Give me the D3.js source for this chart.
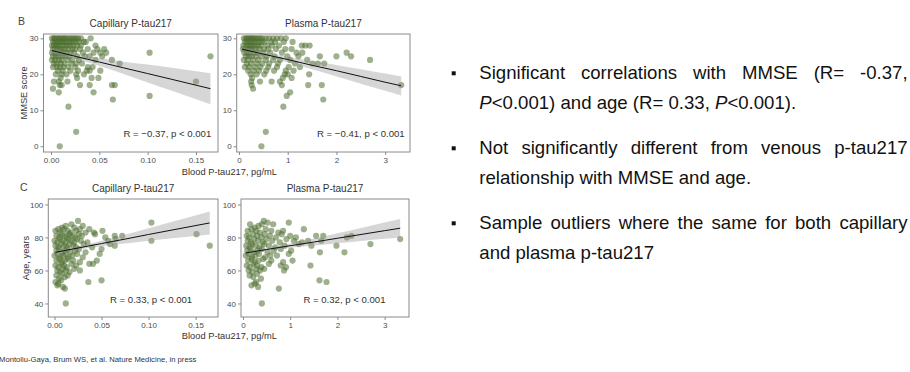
<!DOCTYPE html>
<html>
<head>
<meta charset="utf-8">
<script src="https://cdn.jsdelivr.net/npm/d3@7"></script>
<style>
  body { margin: 0; background: #fff; }
  svg { display: block; font-family: "Liberation Sans", Arial, sans-serif; }
</style>
</head>
<body>
<svg width="910" height="372"></svg>
<script>
// capillary p-tau217 (pg/mL) vs MMSE score
var capMmse = [
  [0.001,30],[0.003,30],[0.004,30],[0.006,30],[0.008,30],[0.009,30],[0.011,30],[0.013,30],[0.014,30],[0.016,30],[0.018,30],[0.020,30],[0.022,30],[0.024,30],[0.026,30],[0.028,30],[0.031,30],[0.041,30],
  [0.002,29],[0.004,29],[0.006,29],[0.008,29],[0.010,29],[0.012,29],[0.014,29],[0.016,29],[0.019,29],[0.021,29],[0.023,29],[0.026,29],[0.029,29],[0.034,29],[0.036,29],
  [0.001,28],[0.003,28],[0.005,28],[0.007,28],[0.009,28],[0.012,28],[0.015,28],[0.017,28],[0.020,28],[0.023,28],[0.027,28],[0.031,28],[0.046,28],
  [0.002,27],[0.004,27],[0.006,27],[0.009,27],[0.011,27],[0.014,27],[0.018,27],[0.022,27],[0.025,27],[0.030,27],[0.038,27],[0.048,27],[0.055,27],
  [0.001,26],[0.004,26],[0.007,26],[0.010,26],[0.013,26],[0.016,26],[0.020,26],[0.024,26],[0.033,26],[0.044,26],[0.051,26],[0.057,26],[0.102,26],
  [0.002,25],[0.005,25],[0.008,25],[0.012,25],[0.015,25],[0.019,25],[0.027,25],[0.035,25],[0.040,25],[0.053,25],[0.165,25],
  [0.001,24],[0.004,24],[0.008,24],[0.011,24],[0.017,24],[0.022,24],[0.029,24],[0.046,24],[0.063,24],
  [0.003,23],[0.006,23],[0.010,23],[0.014,23],[0.021,23],[0.026,23],[0.032,23],[0.071,23],
  [0.002,22],[0.006,22],[0.009,22],[0.013,22],[0.018,22],[0.025,22],[0.038,22],[0.043,22],
  [0.007,21],[0.012,21],[0.020,21],[0.028,21],[0.037,21],[0.040,21],[0.051,21],
  [0.005,20],[0.011,20],[0.016,20],[0.026,20],[0.034,20],
  [0.010,19],[0.027,19],[0.042,19],[0.049,19],
  [0.003,18],[0.008,18],[0.017,18],[0.150,18],
  [0.009,17],[0.011,17],[0.030,17],[0.040,17],[0.063,17],[0.066,17],
  [0.002,16],[0.008,15],[0.044,15],[0.102,14],[0.064,13],[0.018,11],[0.026,4],[0.009,0]
];

// plasma p-tau217 (pg/mL) vs MMSE score
var plasmaMmse = [
  [0.10,30],[0.14,30],[0.17,30],[0.20,30],[0.23,30],[0.26,30],[0.29,30],[0.32,30],[0.36,30],[0.40,30],[0.44,30],[0.48,30],[0.55,30],[0.62,30],[0.70,30],[0.78,30],[0.86,30],[0.96,30],
  [0.12,29],[0.16,29],[0.21,29],[0.25,29],[0.30,29],[0.35,29],[0.41,29],[0.47,29],[0.53,29],[0.66,29],[0.74,29],[0.92,29],[1.10,29],
  [0.09,28],[0.15,28],[0.19,28],[0.24,28],[0.28,28],[0.33,28],[0.39,28],[0.45,28],[0.58,28],[0.68,28],[0.82,28],[1.29,28],[1.36,28],[1.45,28],
  [0.08,27],[0.13,27],[0.18,27],[0.22,27],[0.27,27],[0.34,27],[0.42,27],[0.51,27],[0.60,27],[0.76,27],[0.95,27],[1.08,27],
  [0.11,26],[0.17,26],[0.23,26],[0.31,26],[0.38,26],[0.50,26],[0.64,26],[0.88,26],[1.18,26],[1.30,26],[2.21,26],
  [0.14,25],[0.20,25],[0.26,25],[0.35,25],[0.46,25],[0.57,25],[0.73,25],[0.99,25],[1.22,25],[1.66,25],[2.00,25],[2.30,25],
  [0.10,24],[0.18,24],[0.29,24],[0.40,24],[0.55,24],[0.70,24],[0.84,24],[1.05,24],[1.40,24],[2.69,24],
  [0.16,23],[0.25,23],[0.37,23],[0.48,23],[0.62,23],[0.80,23],[1.15,23],[1.51,23],[1.62,23],[1.75,23],
  [0.12,22],[0.21,22],[0.33,22],[0.44,22],[0.60,22],[0.78,22],[1.02,22],[1.25,22],
  [0.19,21],[0.30,21],[0.41,21],[0.56,21],[0.72,21],[0.96,21],[1.12,21],
  [0.24,20],[0.36,20],[0.52,20],[0.94,20],[1.00,20],[1.44,20],
  [0.27,19],[0.90,19],[1.08,19],
  [0.25,18],[0.43,18],[0.67,18],[0.84,18],
  [0.26,17],[0.88,17],[1.42,17],[1.70,17],[3.33,17],
  [0.29,16],[1.05,15],[0.98,14],[1.73,13],[0.91,11],[0.55,4],[0.46,0]
];

// capillary p-tau217 (pg/mL) vs age (years)
var capAge = [
  [0.025,90],[0.030,87],[0.012,87],[0.018,88],[0.008,86],[0.021,86],[0.004,85],
  [0.001,84],[0.006,83],[0.010,85],[0.014,84],[0.017,83],[0.023,84],[0.027,85],[0.033,83],[0.037,85],[0.042,83],[0.051,84],
  [0.002,81],[0.005,80],[0.008,82],[0.011,81],[0.013,80],[0.016,82],[0.019,81],[0.022,80],[0.026,82],[0.029,81],[0.043,82],[0.064,81],[0.072,81],[0.054,80],[0.103,89],
  [0.000,78],[0.003,77],[0.006,79],[0.009,78],[0.012,77],[0.015,79],[0.018,78],[0.021,77],[0.024,79],[0.028,78],[0.035,77],[0.057,78],[0.065,79],[0.103,78],
  [0.001,75],[0.004,74],[0.007,76],[0.010,75],[0.013,74],[0.016,76],[0.020,75],[0.023,74],[0.031,76],[0.040,74],[0.059,76],[0.064,75],[0.151,82],[0.165,75],
  [0.002,72],[0.005,73],[0.008,71],[0.011,72],[0.014,73],[0.017,71],[0.022,72],[0.026,73],[0.033,71],[0.050,73],
  [0.000,69],[0.003,70],[0.006,68],[0.009,69],[0.012,70],[0.015,68],[0.019,69],[0.024,70],[0.030,68],[0.048,70],
  [0.002,66],[0.005,67],[0.008,65],[0.011,66],[0.014,67],[0.020,66],[0.027,65],[0.045,66],
  [0.001,63],[0.004,62],[0.007,64],[0.010,63],[0.013,62],[0.018,64],[0.037,64],[0.041,64],[0.023,63],
  [0.003,60],[0.006,59],[0.009,61],[0.012,60],[0.016,59],[0.027,60],[0.021,61],
  [0.002,57],[0.005,55],[0.008,58],[0.011,56],[0.014,57],
  [0.001,53],[0.004,52],[0.007,54],[0.009,50],[0.011,49],[0.036,53],[0.050,54],[0.003,51],
  [0.012,40]
];

// plasma p-tau217 (pg/mL) vs age (years)
var plasmaAge = [
  [0.15,88],[0.44,90],[0.52,89],[0.40,88],[0.64,88],[0.97,89],[0.25,86],[0.33,87],
  [0.10,84],[0.18,85],[0.28,84],[0.36,83],[0.48,85],[0.60,84],[0.75,83],[1.29,85],[0.85,84],
  [0.08,81],[0.13,80],[0.21,82],[0.30,81],[0.39,80],[0.46,82],[0.57,81],[0.70,80],[0.82,82],[1.00,81],[1.12,80],[1.70,81],[2.30,81],[2.20,80],[1.55,81],
  [0.10,78],[0.17,77],[0.24,79],[0.32,78],[0.42,77],[0.50,79],[0.62,78],[0.78,77],[0.92,79],[1.08,78],[1.25,77],[1.38,78],[1.66,78],[3.33,79],
  [0.07,75],[0.14,74],[0.20,76],[0.27,75],[0.35,74],[0.45,76],[0.55,75],[0.68,74],[0.88,75],[1.18,76],[1.98,75],[2.70,76],[1.45,75],
  [0.09,72],[0.16,73],[0.23,71],[0.31,72],[0.40,73],[0.52,71],[0.65,72],[0.80,73],[1.63,71],[2.15,71],[1.02,72],
  [0.06,69],[0.12,70],[0.19,68],[0.26,69],[0.34,70],[0.47,68],[0.58,69],[0.97,70],[0.72,69],
  [0.11,66],[0.18,67],[0.25,65],[0.33,66],[0.43,67],[0.60,66],[1.05,66],[0.85,65],
  [0.08,63],[0.15,62],[0.22,64],[0.30,63],[0.39,62],[0.80,63],[0.91,62],[1.43,63],[0.55,64],
  [0.12,60],[0.20,59],[0.28,61],[0.36,60],[0.87,60],[0.45,61],
  [0.14,57],[0.22,56],[0.30,58],[0.38,55],
  [0.18,51],[0.25,52],[0.32,50],[0.28,53],[1.62,54],[1.77,53],
  [0.76,49],[0.40,40]
];

// linear fit with 95% band: [x, low, fit, high]
var capMmseFit = [[0.001,25.8,26.6,27.4],[0.025,24.3,25.0,25.7],[0.05,22.3,23.4,24.5],[0.075,20.1,21.8,23.5],[0.1,17.7,20.2,22.7],[0.125,15.4,18.6,21.8],[0.165,11.7,16.0,20.3]];
var plasmaMmseFit = [[0.06,26.2,27.0,27.8],[0.5,25.1,25.6,26.2],[1.0,23.3,24.1,24.8],[1.5,21.4,22.5,23.7],[2.0,19.4,21.0,22.6],[2.5,17.4,19.4,21.4],[3.0,15.4,17.8,20.2],[3.33,14.1,16.8,19.4]];
var capAgeFit = [[0.001,69.8,71.0,72.2],[0.025,72.6,73.6,74.6],[0.05,74.6,76.3,78.0],[0.075,76.3,79.0,81.7],[0.1,78.0,81.8,85.6],[0.125,79.5,84.5,89.5],[0.165,81.8,88.8,95.8]];
var plasmaAgeFit = [[0.06,69.7,70.6,71.5],[0.5,71.9,72.7,73.5],[1.0,73.7,75.0,76.3],[1.5,75.1,77.2,79.3],[2.0,76.5,79.5,82.5],[2.5,77.9,81.8,85.7],[3.0,79.2,84.1,89.0],[3.33,80.0,85.6,91.2]];

var capXTicks = [0, 0.05, 0.1, 0.15];
var plasmaXTicks = [0, 1, 2, 3];
var mmseTicks = [0, 10, 20, 30];
var ageTicks = [40, 60, 80, 100];
var panelTitles = ["Capillary P-tau217", "Plasma P-tau217"];
var corrLabels = ["R = \u22120.37, p < 0.001", "R = \u22120.41, p < 0.001", "R = 0.33, p < 0.001", "R = 0.32, p < 0.001"];

var svg = d3.select("svg");

var panels = [
  {box: [43.5, 34, 218, 152], xd: [-0.0078, 0.1728], yd: [-1.6, 31.2], pts: capMmse, fit: capMmseFit,
   xt: capXTicks, yt: mmseTicks, xf: d3.format(".2f"), title: panelTitles[0], lab: corrLabels[0], lx: 0.075, ly: 3.4},
  {box: [236.7, 34, 410, 152], xd: [-0.047, 3.51], yd: [-1.6, 31.2], pts: plasmaMmse, fit: plasmaMmseFit,
   xt: plasmaXTicks, yt: mmseTicks, xf: d3.format("d"), title: panelTitles[1], lab: corrLabels[1], lx: 1.6, ly: 3.4},
  {box: [48.3, 199, 218, 317], xd: [-0.0066, 0.1738], yd: [31.8, 103.3], pts: capAge, fit: capAgeFit,
   xt: capXTicks, yt: ageTicks, xf: d3.format(".2f"), title: panelTitles[0], lab: corrLabels[2], lx: 0.059, ly: 42.5},
  {box: [241, 199, 409, 317], xd: [-0.042, 3.517], yd: [31.8, 103.3], pts: plasmaAge, fit: plasmaAgeFit,
   xt: plasmaXTicks, yt: ageTicks, xf: d3.format("d"), title: panelTitles[1], lab: corrLabels[3], lx: 1.28, ly: 42.5}
];

panels.forEach(function(p){
  var x = d3.scaleLinear().domain(p.xd).range([p.box[0], p.box[2]]);
  var y = d3.scaleLinear().domain(p.yd).range([p.box[3], p.box[1]]);
  var g = svg.append("g");

  g.append("g")
    .selectAll("circle")
    .data(p.pts)
    .enter().append("circle")
      .attr("cx", function(d){ return x(d[0]); })
      .attr("cy", function(d){ return y(d[1]); })
      .attr("r", 3.1)
      .attr("fill", "#4e7030")
      .attr("fill-opacity", 0.55);

  var band = d3.area()
    .x(function(d){ return x(d[0]); })
    .y0(function(d){ return y(d[1]); })
    .y1(function(d){ return y(d[3]); })
    .curve(d3.curveMonotoneX);
  g.append("path").datum(p.fit)
    .attr("d", band)
    .attr("fill", "#999")
    .attr("fill-opacity", 0.4);

  var line = d3.line()
    .x(function(d){ return x(d[0]); })
    .y(function(d){ return y(d[2]); });
  g.append("path").datum(p.fit)
    .attr("d", line)
    .attr("fill", "none")
    .attr("stroke", "#111")
    .attr("stroke-width", 1);

  g.append("rect")
    .attr("x", p.box[0]).attr("y", p.box[1])
    .attr("width", p.box[2] - p.box[0]).attr("height", p.box[3] - p.box[1])
    .attr("fill", "none").attr("stroke", "#8a8a8a").attr("stroke-width", 1);

  var xa = g.append("g").attr("transform", "translate(0," + p.box[3] + ")")
    .call(d3.axisBottom(x).tickValues(p.xt).tickFormat(p.xf).tickSize(3).tickPadding(2));
  var ya = g.append("g").attr("transform", "translate(" + p.box[0] + ",0)")
    .call(d3.axisLeft(y).tickValues(p.yt).tickSize(3).tickPadding(2));
  [xa, ya].forEach(function(a){
    a.select(".domain").remove();
    a.selectAll("line").attr("stroke", "#8a8a8a");
    a.selectAll("text").attr("fill", "#4d4d4d").attr("font-size", 8)
      .attr("font-family", "Liberation Sans, Arial, sans-serif");
  });

  g.append("text")
    .attr("x", (p.box[0] + p.box[2]) / 2).attr("y", p.box[1] - 7)
    .attr("text-anchor", "middle").attr("font-size", 10).attr("fill", "#333")
    .text(p.title);

  g.append("text")
    .attr("x", x(p.lx)).attr("y", y(p.ly)).attr("dy", "0.35em")
    .attr("font-size", 9.6).attr("fill", "#333")
    .text(p.lab);
});

// panel letters and axis titles
svg.append("text").attr("x", 18).attr("y", 25).attr("font-size", 10.5).attr("fill", "#444").text("B");
svg.append("text").attr("x", 20).attr("y", 191).attr("font-size", 10.5).attr("fill", "#444").text("C");
svg.append("text").attr("transform", "translate(27,93) rotate(-90)")
  .attr("text-anchor", "middle").attr("font-size", 9.3).attr("fill", "#333").text("MMSE score");
svg.append("text").attr("transform", "translate(29,258) rotate(-90)")
  .attr("text-anchor", "middle").attr("font-size", 9.3).attr("fill", "#333").text("Age, years");
svg.append("text").attr("x", 229.4).attr("y", 174.5)
  .attr("text-anchor", "middle").attr("font-size", 9.3).attr("fill", "#333").text("Blood P-tau217, pg/mL");
svg.append("text").attr("x", 229.4).attr("y", 338.5)
  .attr("text-anchor", "middle").attr("font-size", 9.3).attr("fill", "#333").text("Blood P-tau217, pg/mL");

svg.append("text").attr("x", -1).attr("y", 361.5).attr("font-size", 7.7).attr("fill", "#333")
  .text("Montoliu-Gaya, Brum WS, et al. Nature Medicine, in press");

// bullet text on the right
var bulletLines = [
  {y: 79.3, justify: true, text: "Significant correlations with MMSE (R= -0.37,"},
  {y: 109.3, parts: [["P", true], ["<0.001) and age (R= 0.33, ", false], ["P", true], ["<0.001).", false]]},
  {y: 154.3, justify: true, text: "Not significantly different from venous p-tau217"},
  {y: 184.3, parts: [["relationship with MMSE and age.", false]]},
  {y: 229.3, justify: true, text: "Sample outliers where the same for both capillary"},
  {y: 259.3, parts: [["and plasma p-tau217", false]]}
];
var textLeft = 479.3, textRight = 907.6;
var tg = svg.append("g").attr("font-size", 18.6).attr("fill", "#111");

bulletLines.forEach(function(l){
  if (l.justify) {
    tg.append("rect").attr("x", 451.7).attr("y", l.y - 8).attr("width", 4).attr("height", 4).attr("fill", "#111");
    var words = l.text.split(" ");
    var nodes = words.map(function(w){ return tg.append("text").attr("y", l.y).text(w); });
    var widths = nodes.map(function(n){ return n.node().getComputedTextLength(); });
    var gap = (textRight - textLeft - d3.sum(widths)) / (words.length - 1);
    var cx = textLeft;
    nodes.forEach(function(n, i){ n.attr("x", cx); cx += widths[i] + gap; });
  } else {
    var t = tg.append("text").attr("x", textLeft).attr("y", l.y);
    l.parts.forEach(function(pt){
      t.append("tspan").attr("font-style", pt[1] ? "italic" : null).text(pt[0]);
    });
  }
});
</script>
</body>
</html>
